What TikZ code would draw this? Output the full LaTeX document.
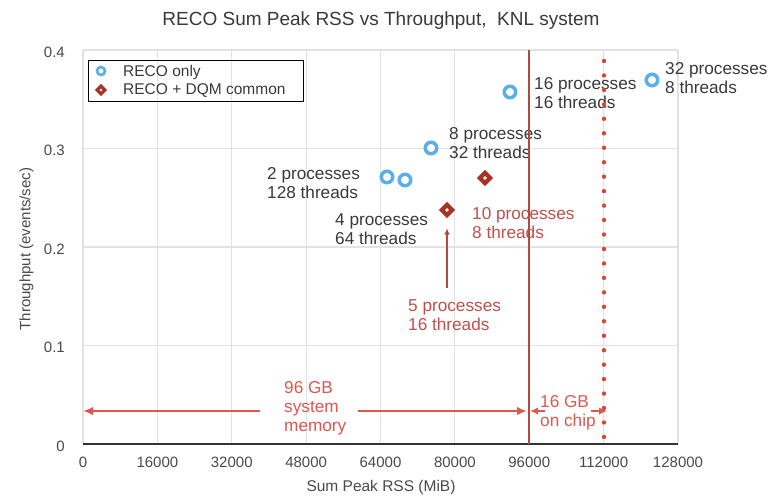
\documentclass[tikz,border=0pt]{standalone}
\usepackage{fontspec}
\setmainfont{Liberation Sans}
\usetikzlibrary{arrows.meta,shapes.geometric}

\definecolor{gridc}{HTML}{E2E2E2}
\definecolor{axisc}{HTML}{333333}
\definecolor{tickc}{HTML}{4A4A4A}
\definecolor{labc}{HTML}{3A3A3A}
\definecolor{ptblue}{HTML}{5AAFE6}
\definecolor{ptred}{HTML}{A93226}
\definecolor{limred}{HTML}{B5483E}
\definecolor{dotred}{HTML}{D4473A}
\definecolor{annred}{HTML}{C0504D}
\definecolor{memred}{HTML}{E0574D}

\tikzset{
  gridline/.style={draw=gridc, line width=1.1pt},
  ticklab/.style={font=\fontsize{15}{17}\selectfont, text=tickc, inner sep=0pt},
  legtext/.style={font=\fontsize{15.5}{17}\selectfont, text=labc, inner sep=0pt, anchor=west},
  ptlab/.style={font=\fontsize{17.2}{19}\selectfont, text=labc, align=left, anchor=north west, inner sep=0pt},
  annlab/.style={ptlab, text=annred},
  memlab/.style={ptlab, text=memred},
  recopt/.style={circle, draw=ptblue, fill=white, line width=3.5pt, minimum size=11.5pt, inner sep=0pt},
  dqmpt/.style={diamond, draw=ptred, fill=white, line width=4.2pt, minimum size=12pt, inner sep=0pt},
  memarrow/.style={draw=memred, line width=2pt, -{Latex[length=10pt,width=8.5pt]}},
  chiparrow/.style={draw=memred, line width=2pt, -{Latex[length=8pt,width=7.5pt]}},
  annarrow/.style={draw=limred, line width=1.5pt, -{Latex[length=6.5pt,width=5.5pt]}},
}

\begin{document}
\begin{tikzpicture}[x=1pt,y=-1pt]
\useasboundingbox (0,0) rectangle (775,496);
\fill[white] (0,0) rectangle (775,496);

% title
\node[font=\fontsize{19}{21}\selectfont, text=labc, inner sep=0pt, anchor=base] (title) at (381,25.5)
  {RECO Sum Peak RSS vs Throughput,\ \ KNL system};

% grid: one column per 16000 MiB, one row per 0.1 events/sec
\foreach \i in {0,...,8}
  \draw[gridline] ({83+74.375*\i},50) -- ({83+74.375*\i},444);
\foreach \j in {1,...,4}
  \draw[gridline] (83,{444-98.5*\j}) -- (678,{444-98.5*\j});
\draw[axisc, line width=1.6pt] (83,444) -- (678,444);

% tick labels
\foreach \i/\lab in {0/0,1/16000,2/32000,3/48000,4/64000,5/80000,6/96000,7/112000,8/128000}
  \node[ticklab, anchor=base] (xt\i) at ({83+74.375*\i},467) {\lab};
\foreach \j/\lab in {0/0,1/0.1,2/0.2,3/0.3,4/0.4}
  \node[ticklab, anchor=base east] (yt\j) at (65,{451-98.5*\j}) {\lab};

% axis titles
\node[font=\fontsize{15.5}{17}\selectfont, text=tickc, inner sep=0pt, anchor=base] (xtitle) at (381,491.5) {Sum Peak RSS (MiB)};
\node[font=\fontsize{15}{17}\selectfont, text=tickc, inner sep=0pt, rotate=90] (ytitle) at (26.5,249) {Throughput (events/sec)};

% point labels
\node[ptlab] (l2) at (267,167) {2 processes\\128 threads};
\node[ptlab] (l4) at (335,213) {4 processes\\64 threads};
\node[ptlab] (l8) at (449,127) {8 processes\\32 threads};
\node[ptlab] (l16) at (534,77) {16 processes\\16 threads};
\node[ptlab] (l32) at (665,62) {32 processes\\8 threads};
\node[annlab] (l10) at (472,207) {10 processes\\8 threads};
\node[annlab] (l5) at (408,299) {5 processes\\16 threads};

% memory limits
\draw[limred, line width=2pt] (529,50) -- (529,444);
\foreach \k in {0,...,26}
  \fill[dotred] (604,{61+14.46*\k}) circle (2.2pt);

% memory annotations
\node[memlab] (m96) at (284,381) {96 GB\\system\\memory};
\node[memlab] (m16) at (540,395) {16 GB\\on chip};
\coordinate (sysL) at (83,411);
\coordinate (sysLt) at (260,411);
\coordinate (sysRt) at (358,411);
\coordinate (sysR) at (527,411);
\coordinate (chipLt) at (545,411);
\coordinate (chipL) at (530,411);
\coordinate (chipRt) at (591,411);
\coordinate (chipR) at (607,411);
\draw[memarrow] (sysLt) -- (sysL);
\draw[memarrow] (sysRt) -- (sysR);
\draw[chiparrow] (chipLt) -- (chipL);
\draw[chiparrow] (chipRt) -- (chipR);

% data points
\node[recopt] (r2) at (387,177) {};
\node[recopt] (r2b) at (405,180) {};
\node[recopt] (r8) at (431,148) {};
\node[recopt] (r16) at (510,92) {};
\node[recopt] (r32) at (652,80) {};
\node[dqmpt] (d10) at (485,178) {};
\node[dqmpt] (d5) at (447,210) {};

% pointer from the 5-process label to its point
\draw[annarrow, shorten >=10pt] ([yshift=11pt]l5.north -| d5.south) -- (d5.south);

% legend
\node[draw=black, line width=1.4pt, minimum width=215pt, minimum height=41pt, anchor=north west, inner sep=0pt] (legend) at (88,60) {};
\node[recopt, line width=2.6pt, minimum size=8pt] (lgr) at (101,71) {};
\node[legtext] (lgrt) at (123,72) {RECO only};
\node[dqmpt, line width=3.2pt, minimum size=9pt] (lgd) at (101,90) {};
\node[legtext] (lgdt) at (123,91) {RECO + DQM common};
\end{tikzpicture}
\end{document}
